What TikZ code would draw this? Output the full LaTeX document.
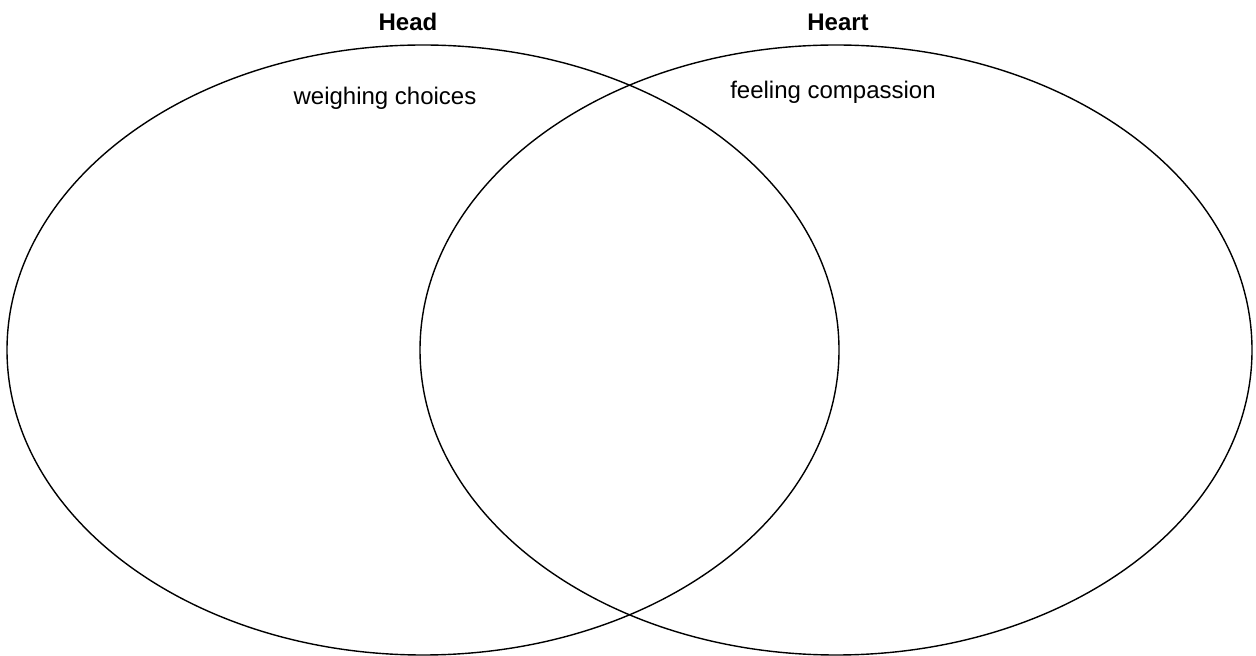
\documentclass[tikz,border=0pt]{standalone}
\usepackage{fontspec}
\setmainfont{Liberation Sans}
\usetikzlibrary{shapes.geometric}

\begin{document}
\begin{tikzpicture}[
      x=0.5pt, y=-0.5pt,
      set/.style={draw, ellipse, line width=0.7pt, minimum width=416pt, minimum height=305pt, inner sep=0pt},
      title/.style={font=\bfseries\fontsize{12}{14}\selectfont},
      item/.style={font=\fontsize{12}{14}\selectfont}
    ]
    \useasboundingbox (0,0) rectangle (1256,656);
    \node[set] (head) at (423,350) {};
    \node[set] (heart) at (836,350) {};
    \node[title] (headlab) at (408,22) {Head};
    \node[title] (heartlab) at (838,22) {Heart};
    \node[item] (weigh) at (385,98) {weighing choices};
    \node[item] (feel) at (833,92) {feeling compassion};
  \end{tikzpicture}
\end{document}
